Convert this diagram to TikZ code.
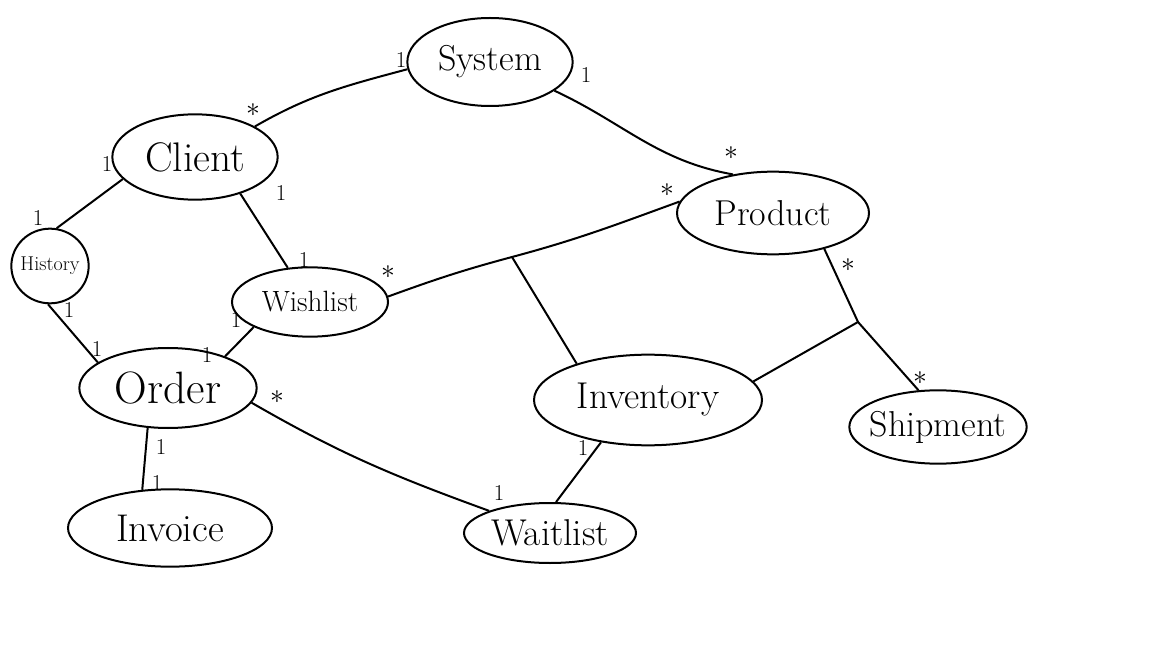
\documentclass[tikz,border=0pt]{standalone}
\usetikzlibrary{shapes.geometric}

\begin{document}
\begin{tikzpicture}[x=0.75pt,y=0.75pt,yscale=-1,xscale=1,
  entity/.style={ellipse, draw, line width=1.5pt, inner xsep=-12pt, inner ysep=0pt, font=\fontsize{#1}{#1}\selectfont},
  link/.style={line width=1.5pt},
  mult/.style={inner sep=0.75pt, font=\fontsize{17}{17}\selectfont},
  many/.style={inner sep=0.75pt, font=\fontsize{20}{20}\selectfont}]
\useasboundingbox (0,0) rectangle (1152,648);

% Entities
\node [entity=27, minimum width=124pt, minimum height=66pt] (system) at (490,62) {System};
\node [entity=31, minimum width=124pt, minimum height=64pt] (client) at (195,157) {Client};
\node [entity=15, minimum width=58pt, minimum height=56pt] (history) at (50,266) {History};
\node [entity=22, minimum width=117pt, minimum height=52pt] (wishlist) at (310,302) {Wishlist};
\node [entity=34, minimum width=133pt, minimum height=60pt] (order) at (168,388) {Order};
\node [entity=27, minimum width=144pt, minimum height=62pt] (product) at (773,213) {Product};
\node [entity=28, minimum width=171pt, minimum height=68pt] (inventory) at (648,400) {Inventory};
\node [entity=27, minimum width=133pt, minimum height=55pt] (shipment) at (938,427) {Shipment};
\node [entity=29, minimum width=153pt, minimum height=58pt] (invoice) at (170,528) {Invoice};
\node [entity=28, minimum width=129pt, minimum height=45pt] (waitlist) at (550,533) {Waitlist};

% Junctions
\coordinate (wp) at (512,257);
\coordinate (ps) at (858,322);

% Associations
\draw [link] (system.185) to [out=165,in=-30] (client.27);
\draw [link] (system.-24) to [out=25,in=190] (product.136);
\draw [link] (client.197) -- (history.80);
\draw [link] (client.-39) -- (wishlist.123);
\draw [link] (history.267) -- (order.160);
\draw [link] (wishlist.204) -- (order.29);
\draw [link] (wishlist.4) to [out=-20,in=165] (wp) to [out=-15,in=160] (product.173);
\draw [link] (wp) -- (inventory.153);
\draw [link] (product.-35) -- (ps) -- (shipment.118);
\draw [link] (inventory.10) -- (ps);
\draw [link] (order.243) -- (invoice.126);
\draw [link] (order.-10) to [out=30,in=-160] (waitlist.160);
\draw [link] (inventory.222) -- (waitlist.79);

% Multiplicities
\node [mult] (m1) at (401,60) {1};
\node [mult] (m2) at (586,75) {1};
\node [many] (m3) at (253,110) {$\ast$};
\node [many] (m4) at (731,153) {$\ast$};
\node [many] (m5) at (667,190) {$\ast$};
\node [many] (m6) at (388,272) {$\ast$};
\node [many] (m7) at (848,265) {$\ast$};
\node [many] (m8) at (920,378) {$\ast$};
\node [mult] (m9) at (107,164) {1};
\node [mult] (m10) at (38,218) {1};
\node [mult] (m11) at (281,193) {1};
\node [mult] (m12) at (304,260) {1};
\node [mult] (m13) at (69,310) {1};
\node [mult] (m14) at (97,349) {1};
\node [mult] (m15) at (236,320) {1};
\node [mult] (m16) at (207,355) {1};
\node [many] (m17) at (277,397) {$\ast$};
\node [mult] (m18) at (161,447) {1};
\node [mult] (m19) at (157,483) {1};
\node [mult] (m20) at (583,448) {1};
\node [mult] (m21) at (499,493) {1};

\end{tikzpicture}
\end{document}
